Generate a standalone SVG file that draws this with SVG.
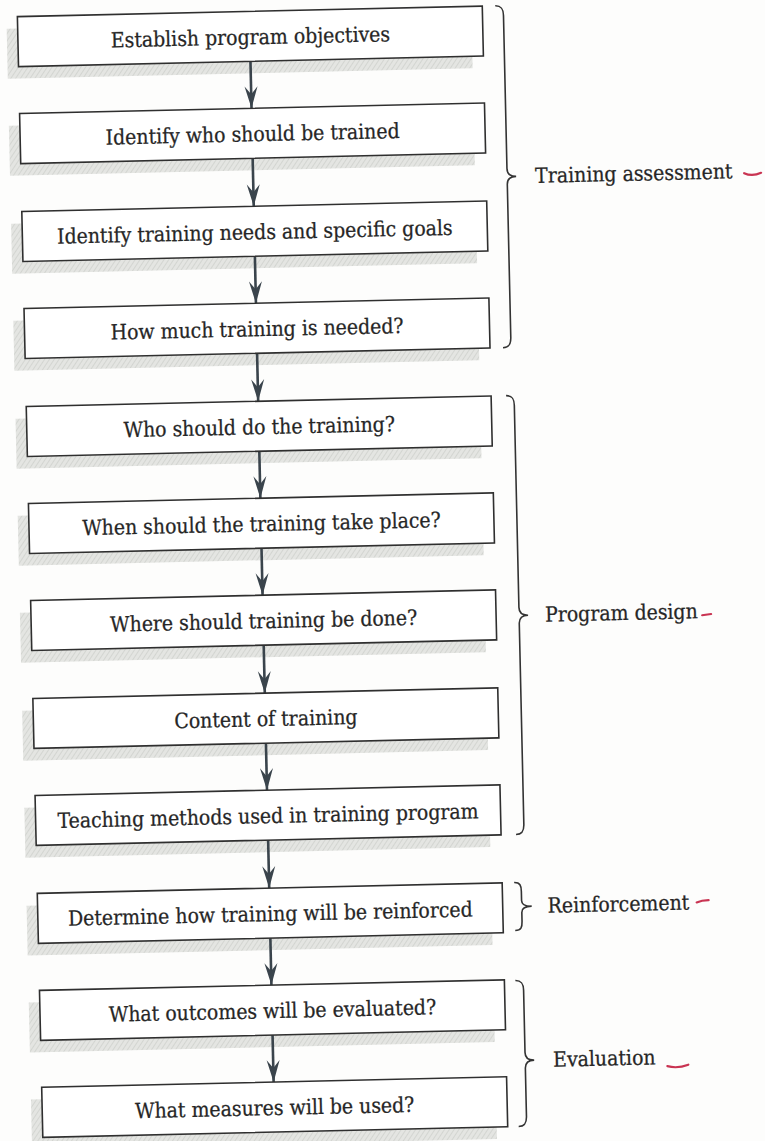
<svg xmlns="http://www.w3.org/2000/svg" width="765" height="1141" viewBox="0 0 765 1141">
<defs>
<pattern id="hatch" width="4" height="4" patternUnits="userSpaceOnUse" patternTransform="rotate(35)">
<rect width="4" height="4" fill="#e4e5e2"/>
<line x1="0" y1="0" x2="0" y2="4" stroke="#cfd1cd" stroke-width="1.6"/>
</pattern>
<marker id="ah" markerWidth="24" markerHeight="16" viewBox="-23 -8 24 16" refX="0" refY="0" orient="auto" markerUnits="userSpaceOnUse">
<path d="M0,0 L-22,-6.5 L-14,0 L-22,6.5 Z" fill="#3a444c"/>
</marker>
<style>
.sh{fill:url(#hatch);}
.bx{fill:#ffffff;stroke:#2f2f2f;stroke-width:1.6;}
.t{font-family:"DejaVu Serif Condensed","DejaVu Serif",serif;font-size:21px;fill:#262626;stroke:#262626;stroke-width:0.25;text-anchor:middle;}
.lb{font-family:"DejaVu Serif Condensed","DejaVu Serif",serif;font-size:21px;fill:#262626;stroke:#262626;stroke-width:0.25;}
.ar{stroke:#3a444c;stroke-width:2.6;fill:none;marker-end:url(#ah);}
.br{stroke:#333;stroke-width:1.6;fill:none;}
.rd{stroke:#c93452;stroke-width:2.2;fill:none;stroke-linecap:round;}
</style>
</defs>
<rect width="765" height="1141" fill="#fdfdfc"/>
<g transform="rotate(-1.3)">
<g id="shadows">
<rect class="sh" x="6" y="29" width="465" height="50"/>
<rect class="sh" x="6" y="126" width="465" height="50"/>
<rect class="sh" x="6" y="224" width="465" height="50"/>
<rect class="sh" x="6" y="321" width="465" height="50"/>
<rect class="sh" x="6" y="419" width="465" height="50"/>
<rect class="sh" x="6" y="516" width="465" height="50"/>
<rect class="sh" x="6" y="613" width="465" height="50"/>
<rect class="sh" x="6" y="711" width="465" height="50"/>
<rect class="sh" x="6" y="808" width="465" height="50"/>
<rect class="sh" x="6" y="906" width="465" height="50"/>
<rect class="sh" x="6" y="1003" width="465" height="50"/>
<rect class="sh" x="6" y="1100" width="465" height="50"/>
</g>
<g id="connectors">
<line class="ar" x1="249" y1="67" x2="249" y2="114"/>
<line class="ar" x1="249" y1="164" x2="249" y2="212"/>
<line class="ar" x1="249" y1="262" x2="249" y2="309"/>
<line class="ar" x1="249" y1="359" x2="249" y2="407"/>
<line class="ar" x1="249" y1="457" x2="249" y2="504"/>
<line class="ar" x1="249" y1="554" x2="249" y2="601"/>
<line class="ar" x1="249" y1="651" x2="249" y2="699"/>
<line class="ar" x1="249" y1="749" x2="249" y2="796"/>
<line class="ar" x1="249" y1="846" x2="249" y2="894"/>
<line class="ar" x1="249" y1="944" x2="249" y2="991"/>
<line class="ar" x1="249" y1="1041" x2="249" y2="1088"/>
</g>
<g id="n1"><rect class="bx" x="17" y="17" width="465" height="50"/><text class="t" x="249.5" y="50">Establish program objectives</text></g>
<g id="n2"><rect class="bx" x="17" y="114" width="465" height="50"/><text class="t" x="249.5" y="147">Identify who should be trained</text></g>
<g id="n3"><rect class="bx" x="17" y="212" width="465" height="50"/><text class="t" x="249.5" y="245">Identify training needs and specific goals</text></g>
<g id="n4"><rect class="bx" x="17" y="309" width="465" height="50"/><text class="t" x="249.5" y="342">How much training is needed?</text></g>
<g id="n5"><rect class="bx" x="17" y="407" width="465" height="50"/><text class="t" x="249.5" y="440">Who should do the training?</text></g>
<g id="n6"><rect class="bx" x="17" y="504" width="465" height="50"/><text class="t" x="249.5" y="537">When should the training take place?</text></g>
<g id="n7"><rect class="bx" x="17" y="601" width="465" height="50"/><text class="t" x="249.5" y="634">Where should training be done?</text></g>
<g id="n8"><rect class="bx" x="17" y="699" width="465" height="50"/><text class="t" x="249.5" y="732">Content of training</text></g>
<g id="n9"><rect class="bx" x="17" y="796" width="465" height="50"/><text class="t" x="249.5" y="829">Teaching methods used in training program</text></g>
<g id="n10"><rect class="bx" x="17" y="894" width="465" height="50"/><text class="t" x="249.5" y="927">Determine how training will be reinforced</text></g>
<g id="n11"><rect class="bx" x="17" y="991" width="465" height="50"/><text class="t" x="249.5" y="1024">What outcomes will be evaluated?</text></g>
<g id="n12"><rect class="bx" x="17" y="1088" width="465" height="50"/><text class="t" x="249.5" y="1121">What measures will be used?</text></g>
<g id="g-training-assessment">
<path class="br" d="M495,17 C501,17 503,20 503,27 L503,180 C503,185 506,188 512,188 C506,188 503,191 503,196 L503,349 C503,356 501,359 495,359"/>
<text class="lb" x="531" y="195">Training assessment</text>
</g>
<g id="g-program-design">
<path class="br" d="M497,407 C503,407 505,410 505,417 L505,619 C505,624 508,627 514,627 C508,627 505,630 505,635 L505,836 C505,843 503,846 497,846"/>
<text class="lb" x="531" y="634">Program design</text>
</g>
<g id="g-reinforcement">
<path class="br" d="M494,894 C500,894 501,897 501,903 L501,912 C501,916 504,918 511,918 C504,918 501,920 501,924 L501,933 C501,939 500,942 494,942"/>
<text class="lb" x="527" y="925">Reinforcement</text>
</g>
<g id="g-evaluation">
<path class="br" d="M493,992 C499,992 501,995 501,1002 L501,1064 C501,1069 504,1072 510,1072 C504,1072 501,1075 501,1080 L501,1128 C501,1135 499,1138 493,1138"/>
<text class="lb" x="529" y="1079">Evaluation</text>
</g>
<g id="red-marks">
<path class="rd" d="M740,190 Q748,194 757,190"/>
<path class="rd" d="M688,631 L697,630" stroke-width="3.2"/>
<path class="rd" d="M676,918 Q681,916 688,916"/>
<path class="rd" d="M643,1081 Q653,1084 664,1080"/>
</g>
</g>
</svg>
